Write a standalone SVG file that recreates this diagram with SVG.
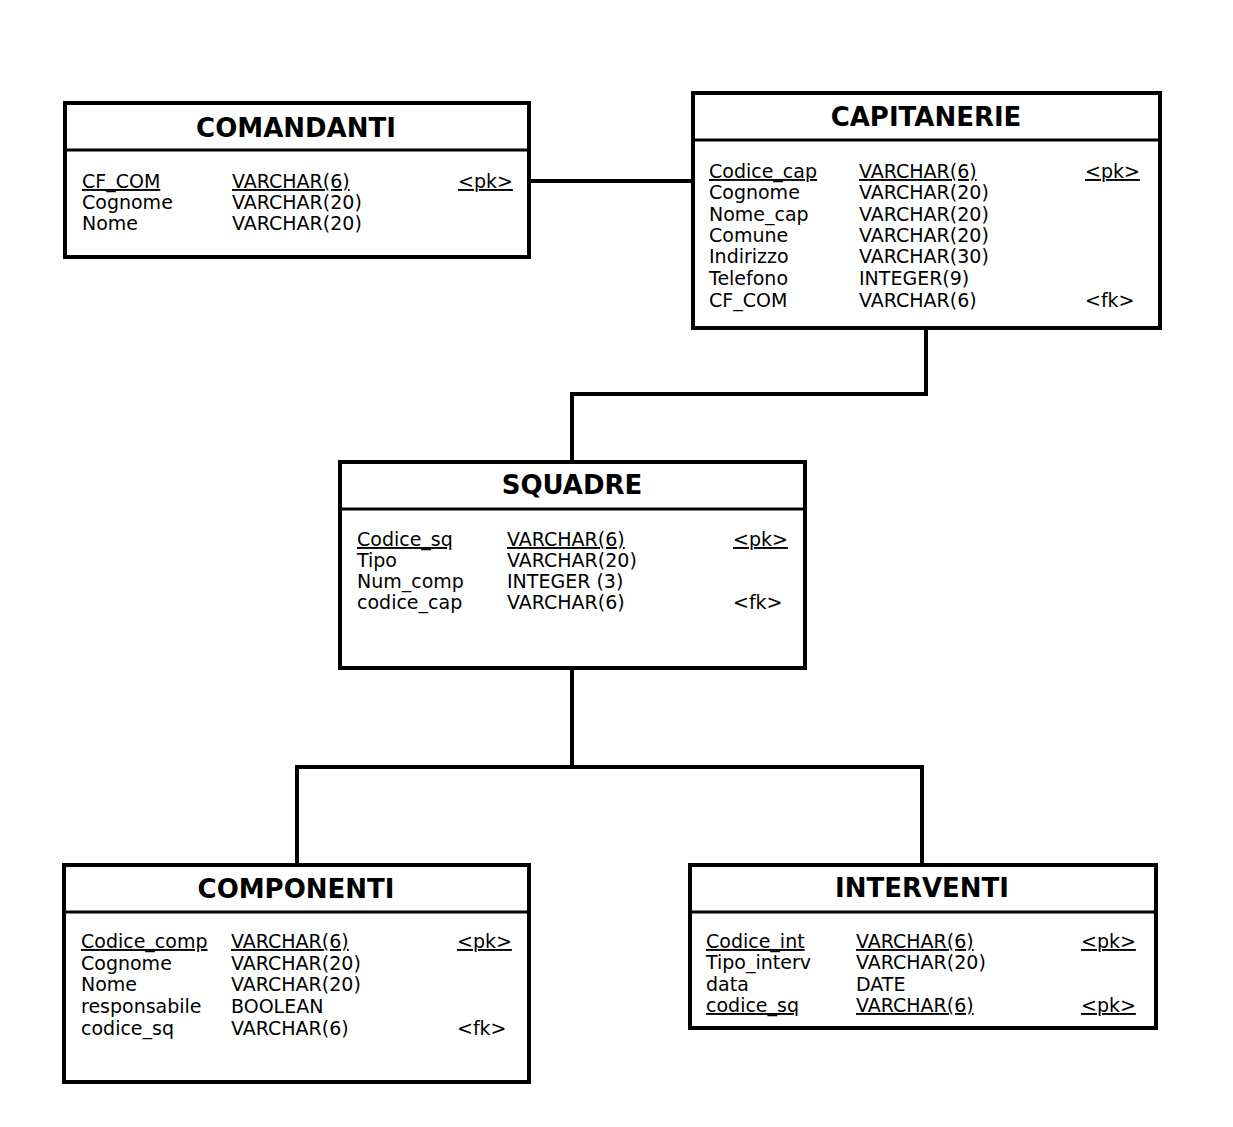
<svg xmlns="http://www.w3.org/2000/svg" width="1233" height="1127" viewBox="0 0 1233 1127">
<style>
.box{fill:#fff;stroke:#000;stroke-width:4}
.div{stroke:#000;stroke-width:3}
.title{font-family:"DejaVu Sans",Verdana,sans-serif;font-weight:bold;font-size:26px;text-anchor:middle;fill:#000}
.row{font-family:"DejaVu Sans",Verdana,sans-serif;font-size:19px;fill:#000}
.u{text-decoration:underline}
.conn{fill:none;stroke:#000;stroke-width:4}
</style>
<rect width="1233" height="1127" fill="#fff"/>
<g id="connectors">
<line class="conn" x1="531" y1="181" x2="691" y2="181"/>
<polyline class="conn" points="926,330 926,394 572,394 572,460"/>
<polyline class="conn" points="572,670 572,767"/>
<polyline class="conn" points="297,863 297,767 922,767 922,863"/>
</g>
<g id="comandanti">
<rect class="box" x="65" y="103" width="464" height="154"/>
<line class="div" x1="65" y1="150" x2="529" y2="150"/>
<text class="title" x="296" y="137">COMANDANTI</text>
<text class="row u" x="82" y="188">CF_COM</text><text class="row u" x="232" y="188">VARCHAR(6)</text><text class="row u" x="458" y="188">&lt;pk&gt;</text>
<text class="row" x="82" y="209">Cognome</text><text class="row" x="232" y="209">VARCHAR(20)</text>
<text class="row" x="82" y="230">Nome</text><text class="row" x="232" y="230">VARCHAR(20)</text>
</g>
<g id="capitanerie">
<rect class="box" x="693" y="93" width="467" height="235"/>
<line class="div" x1="693" y1="140" x2="1160" y2="140"/>
<text class="title" x="926" y="126">CAPITANERIE</text>
<text class="row u" x="709" y="178">Codice_cap</text><text class="row u" x="859" y="178">VARCHAR(6)</text><text class="row u" x="1085" y="178">&lt;pk&gt;</text>
<text class="row" x="709" y="199">Cognome</text><text class="row" x="859" y="199">VARCHAR(20)</text>
<text class="row" x="709" y="220.5">Nome_cap</text><text class="row" x="859" y="220.5">VARCHAR(20)</text>
<text class="row" x="709" y="242">Comune</text><text class="row" x="859" y="242">VARCHAR(20)</text>
<text class="row" x="709" y="263">Indirizzo</text><text class="row" x="859" y="263">VARCHAR(30)</text>
<text class="row" x="709" y="285">Telefono</text><text class="row" x="859" y="285">INTEGER(9)</text>
<text class="row" x="709" y="307">CF_COM</text><text class="row" x="859" y="307">VARCHAR(6)</text><text class="row" x="1085" y="307">&lt;fk&gt;</text>
</g>
<g id="squadre">
<rect class="box" x="340" y="462" width="465" height="206"/>
<line class="div" x1="340" y1="509" x2="805" y2="509"/>
<text class="title" x="572" y="494">SQUADRE</text>
<text class="row u" x="357" y="546">Codice_sq</text><text class="row u" x="507" y="546">VARCHAR(6)</text><text class="row u" x="733" y="546">&lt;pk&gt;</text>
<text class="row" x="357" y="567">Tipo</text><text class="row" x="507" y="567">VARCHAR(20)</text>
<text class="row" x="357" y="588">Num_comp</text><text class="row" x="507" y="588">INTEGER (3)</text>
<text class="row" x="357" y="609">codice_cap</text><text class="row" x="507" y="609">VARCHAR(6)</text><text class="row" x="733" y="609">&lt;fk&gt;</text>
</g>
<g id="componenti">
<rect class="box" x="64" y="865" width="465" height="217"/>
<line class="div" x1="64" y1="912" x2="529" y2="912"/>
<text class="title" x="296" y="898">COMPONENTI</text>
<text class="row u" x="81" y="948">Codice_comp</text><text class="row u" x="231" y="948">VARCHAR(6)</text><text class="row u" x="457" y="948">&lt;pk&gt;</text>
<text class="row" x="81" y="969.5">Cognome</text><text class="row" x="231" y="969.5">VARCHAR(20)</text>
<text class="row" x="81" y="991">Nome</text><text class="row" x="231" y="991">VARCHAR(20)</text>
<text class="row" x="81" y="1013">responsabile</text><text class="row" x="231" y="1013">BOOLEAN</text>
<text class="row" x="81" y="1034.5">codice_sq</text><text class="row" x="231" y="1034.5">VARCHAR(6)</text><text class="row" x="457" y="1034.5">&lt;fk&gt;</text>
</g>
<g id="interventi">
<rect class="box" x="690" y="865" width="466" height="163"/>
<line class="div" x1="690" y1="912" x2="1156" y2="912"/>
<text class="title" x="922" y="897">INTERVENTI</text>
<text class="row u" x="706" y="948">Codice_int</text><text class="row u" x="856" y="948">VARCHAR(6)</text><text class="row u" x="1081" y="948">&lt;pk&gt;</text>
<text class="row" x="706" y="969">Tipo_interv</text><text class="row" x="856" y="969">VARCHAR(20)</text>
<text class="row" x="706" y="990.5">data</text><text class="row" x="856" y="990.5">DATE</text>
<text class="row u" x="706" y="1012">codice_sq</text><text class="row u" x="856" y="1012">VARCHAR(6)</text><text class="row u" x="1081" y="1012">&lt;pk&gt;</text>
</g>
</svg>
